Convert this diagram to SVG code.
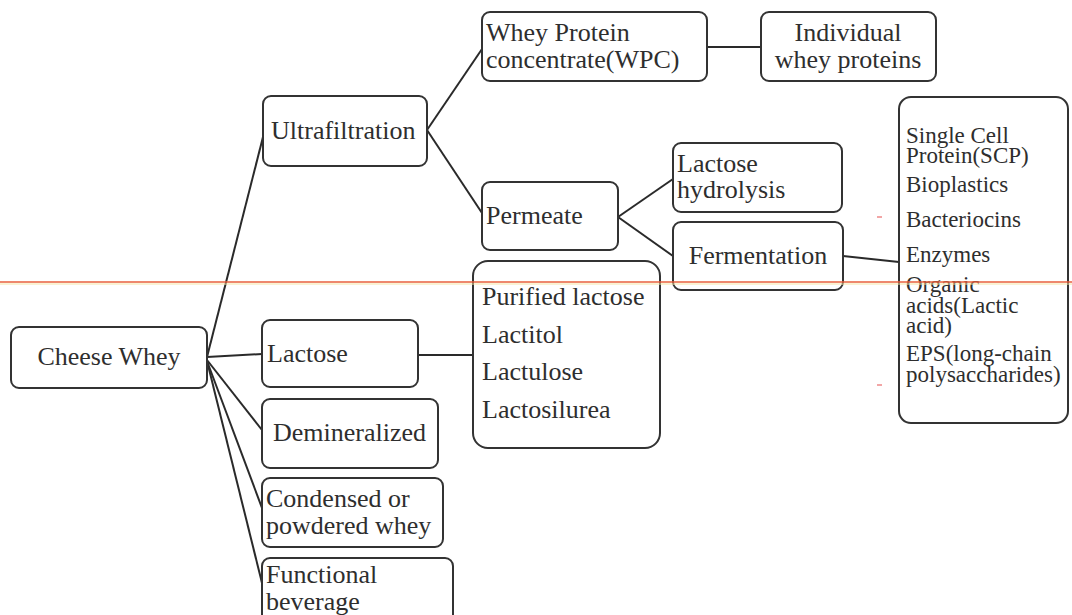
<svg xmlns="http://www.w3.org/2000/svg" width="1072" height="615" viewBox="0 0 1072 615">
<style>
.box{fill:#fff;stroke:#333;stroke-width:2}
.t{font-size:26px;fill:#2e2e2e}
.s{font-size:23px;fill:#2e2e2e}
.c{fill:none;stroke:#2a2a2a;stroke-width:2}
</style>
<rect width="1072" height="615" fill="#fff"/>
<g id="connectors" class="c">
<line x1="207" y1="357" x2="263" y2="137"/>
<line x1="207" y1="357" x2="262" y2="354"/>
<line x1="207" y1="360" x2="262" y2="430"/>
<line x1="207" y1="361" x2="262" y2="508"/>
<line x1="207" y1="361" x2="262" y2="583"/>
<line x1="427" y1="130" x2="482" y2="49"/>
<line x1="427" y1="130" x2="482" y2="213"/>
<line x1="707" y1="47" x2="761" y2="47"/>
<line x1="618" y1="217" x2="673" y2="179"/>
<line x1="618" y1="217" x2="673" y2="256"/>
<line x1="843" y1="256" x2="899" y2="262"/>
<line x1="418" y1="355" x2="473" y2="355"/>
</g>
<g font-family="Liberation Serif, Times New Roman, serif">
<g id="cheese-whey"><rect class="box" x="11" y="327" width="196" height="61" rx="8"/><text class="t" x="109" y="365" text-anchor="middle">Cheese Whey</text></g>
<g id="ultrafiltration"><rect class="box" x="263" y="96" width="164" height="70" rx="8"/><text class="t" x="271" y="139">Ultrafiltration</text></g>
<g id="wpc"><rect class="box" x="482" y="12" width="225" height="69" rx="8"/><text class="t" x="486" y="41">Whey Protein</text><text class="t" x="486" y="68">concentrate(WPC)</text></g>
<g id="individual"><rect class="box" x="761" y="12" width="175" height="69" rx="8"/><text class="t" x="848" y="41" text-anchor="middle">Individual</text><text class="t" x="848" y="68" text-anchor="middle">whey proteins</text></g>
<g id="permeate"><rect class="box" x="482" y="182" width="136" height="68" rx="8"/><text class="t" x="486" y="224">Permeate</text></g>
<g id="lactose-hydrolysis"><rect class="box" x="673" y="143" width="169" height="69" rx="8"/><text class="t" x="677" y="172">Lactose</text><text class="t" x="677" y="198">hydrolysis</text></g>
<g id="fermentation"><rect class="box" x="673" y="222" width="170" height="68" rx="8"/><text class="t" x="758" y="264" text-anchor="middle">Fermentation</text></g>
<g id="fermentation-products"><rect class="box" x="899" y="97" width="169" height="326" rx="12"/>
<text class="s" x="906" y="143">Single Cell</text>
<text class="s" x="906" y="163">Protein(SCP)</text>
<text class="s" x="906" y="192">Bioplastics</text>
<text class="s" x="906" y="227">Bacteriocins</text>
<text class="s" x="906" y="262">Enzymes</text>
<text class="s" x="906" y="292">Organic</text>
<text class="s" x="906" y="313">acids(Lactic</text>
<text class="s" x="906" y="333">acid)</text>
<text class="s" x="906" y="361">EPS(long-chain</text>
<text class="s" x="906" y="382">polysaccharides)</text></g>
<g id="lactose"><rect class="box" x="262" y="320" width="156" height="67" rx="8"/><text class="t" x="267" y="362">Lactose</text></g>
<g id="lactose-products"><rect class="box" x="473" y="261" width="187" height="187" rx="15"/>
<text class="t" x="482" y="305">Purified lactose</text>
<text class="t" x="482" y="343">Lactitol</text>
<text class="t" x="482" y="380">Lactulose</text>
<text class="t" x="482" y="418">Lactosilurea</text></g>
<g id="demineralized"><rect class="box" x="262" y="399" width="176" height="69" rx="8"/><text class="t" x="273" y="441">Demineralized</text></g>
<g id="condensed"><rect class="box" x="262" y="478" width="181" height="69" rx="8"/><text class="t" x="266" y="507">Condensed or</text><text class="t" x="266" y="534">powdered whey</text></g>
<g id="functional"><rect class="box" x="262" y="558" width="191" height="70" rx="8"/><text class="t" x="266" y="583">Functional</text><text class="t" x="266" y="610">beverage</text></g>
</g>
<line x1="0" y1="282" x2="1072" y2="282" stroke="#e8603c" stroke-width="1.5"/>
<line x1="0" y1="284" x2="1072" y2="284" stroke="#f5e6a8" stroke-width="1"/>
<line x1="877" y1="217" x2="882" y2="217" stroke="#e88" stroke-width="1.5"/>
<line x1="877" y1="385" x2="882" y2="385" stroke="#e88" stroke-width="1.5"/>
</svg>
